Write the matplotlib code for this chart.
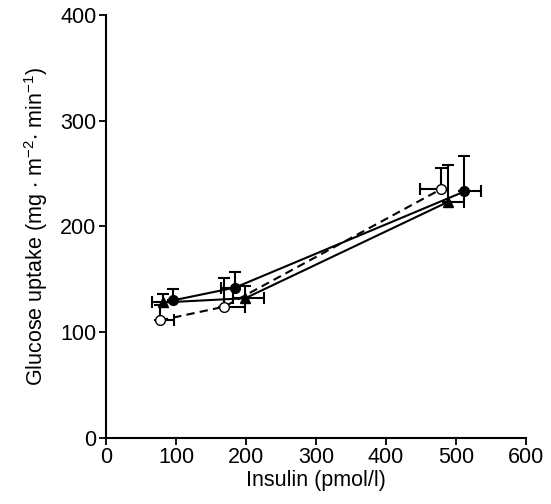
import matplotlib
matplotlib.use("Agg")
import matplotlib.pyplot as plt
from matplotlib import rcParams

rcParams["font.family"] = ["Liberation Sans", "DejaVu Sans"]
rcParams["mathtext.default"] = "regular"

# filled circles, solid line
x_fill = [96, 184, 512]
y_fill = [130, 142, 233]
xerr_fill_lo = [0, 20, 0]
xerr_fill_hi = [0, 0, 24]
yerr_fill = [11, 15, 34]

# open circles, dashed line
x_open = [77, 169, 478]
y_open = [111, 124, 235]
xerr_open_lo = [0, 0, 29]
xerr_open_hi = [20, 29, 0]
yerr_open = [15, 27, 20]

# triangles, solid line
x_tri = [82, 199, 488]
y_tri = [128, 132, 223]
xerr_tri_lo = [17, 18, 0]
xerr_tri_hi = [0, 26, 24]
yerr_tri = [8, 12, 35]

fig = plt.figure(figsize=(5.51, 5.04), dpi=100)
ax = fig.add_axes([0.1924, 0.1315, 0.7622, 0.8387])

common = dict(color="k", linewidth=1.5, elinewidth=1.5, capsize=4, capthick=1.5, markersize=7)
zeros = [0, 0, 0]

ax.errorbar(x_tri, y_tri, xerr=[xerr_tri_lo, xerr_tri_hi], yerr=[zeros, yerr_tri], marker="^",
            markerfacecolor="k", linestyle="-", **common)
ax.errorbar(x_open, y_open, xerr=[xerr_open_lo, xerr_open_hi], yerr=[zeros, yerr_open], marker="o",
            markerfacecolor="white", markeredgecolor="k", linestyle=(0, (4, 2.5)), zorder=3, **common)
ax.errorbar(x_fill, y_fill, xerr=[xerr_fill_lo, xerr_fill_hi], yerr=[zeros, yerr_fill], marker="o",
            markerfacecolor="k", linestyle="-", zorder=4, **common)

ax.set_xlim(0, 600)
ax.set_ylim(0, 400)
ax.set_xticks(range(0, 601, 100))
ax.set_yticks(range(0, 401, 100))
ax.spines["top"].set_visible(False)
ax.spines["right"].set_visible(False)
ax.spines["left"].set_linewidth(1.5)
ax.spines["bottom"].set_linewidth(1.5)
ax.tick_params(direction="out", length=5, width=1.3, labelsize=15.5, pad=2)

ax.set_xlabel("Insulin (pmol/l)", fontsize=15.5, labelpad=1)
ax.set_ylabel(r"Glucose uptake (mg $\cdot$ m$^{-2}$$\cdot$ min$^{-1}$)", fontsize=15.5, labelpad=7)

fig.savefig("out.png", dpi=100)
